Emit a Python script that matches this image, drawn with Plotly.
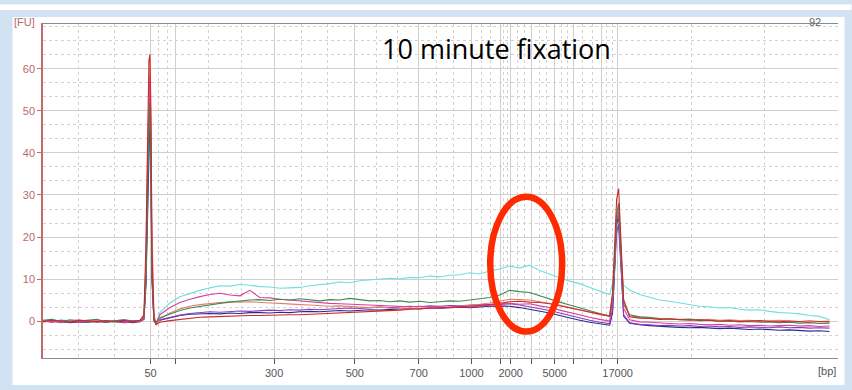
import plotly.graph_objects as go

# migration-time axis (arbitrary units), shared by all traces
t_base = [43, 52, 61, 70, 79, 88, 97, 106, 115, 124, 133, 140, 144]
t_peak1 = [146, 148, 149, 150, 151, 152, 154, 156]
t_smear = list(range(160, 611, 10))
t_peak2 = [613, 615, 617, 619, 621, 624]
t_tail = list(range(630, 831, 10))
t = t_base + t_peak1 + t_smear + t_peak2 + t_tail

cyan = ([0.1, -0.2, 0.3, 0.0, -0.3, 0.2, -0.1, 0.1, -0.4, 0.0, -0.2, 0.1, 0.8]
        + [8, 30, 42, 47, 32, 10, 0.5, -0.8]
        + [2.0, 4.3, 5.8, 6.6, 7.3, 7.9, 8.4, 8.3, 8.7, 8.5, 8.2, 8.1, 7.8, 7.9, 8.0,
           8.4, 8.6, 8.9, 9.3, 9.1, 9.6, 9.8, 9.9, 10.2, 10.0, 10.4, 10.3, 10.7, 10.5, 10.9,
           11.0, 11.5, 11.2, 11.9, 12.4, 13.1, 12.6, 13.3, 12.0, 11.1, 10.3, 9.5, 8.9, 8.0, 7.2,
           6.3]
        + [9, 16, 23, 22, 14, 8.5]
        + [7.4, 6.3, 5.6, 5.0, 4.7, 4.3, 3.8, 3.5, 3.4, 3.1, 3.2, 2.8, 2.6, 2.7, 2.3,
           2.0, 1.9, 1.7, 1.3, 1.1, 0.3])
green = ([0.2, 0.4, -0.1, 0.3, 0.0, 0.2, 0.4, -0.2, 0.1, 0.3, 0.0, 0.2, 1.0]
         + [10, 35, 48, 52, 36, 12, 0.8, -0.5]
         + [0.8, 1.7, 2.5, 3.1, 3.5, 3.9, 4.2, 4.5, 4.8, 5.0, 5.1, 4.9, 5.2, 5.0, 5.3,
            5.0, 4.8, 5.1, 5.0, 5.4, 5.1, 4.8, 4.9, 4.6, 4.8, 4.5, 4.7, 4.4, 4.6, 4.8,
            4.7, 5.0, 5.2, 5.6, 6.2, 7.3, 7.0, 6.8, 6.0, 5.2, 4.5, 3.8, 3.1, 2.5, 1.8,
            1.2]
         + [6, 14, 25, 28, 18, 4]
         + [1.5, 1.0, 0.9, 0.6, 0.5, 0.3, 0.4, 0.1, 0.2, -0.1, 0.0, -0.2, -0.1, -0.3, -0.2,
            -0.4, -0.3, -0.5, -0.4, -0.6, -0.5])
magenta = ([0.0, -0.3, 0.2, -0.1, -0.2, 0.1, -0.3, 0.0, -0.1, -0.4, 0.1, -0.2, 0.6]
           + [12, 40, 54, 58, 42, 14, 0.5, -0.5]
           + [1.5, 3.2, 4.4, 5.2, 5.8, 6.3, 6.6, 6.2, 6.0, 7.3, 5.6, 5.5, 5.2, 5.0, 4.7,
              4.5, 4.4, 4.2, 4.1, 4.0, 3.9, 3.8, 3.6, 3.6, 3.5, 3.4, 3.5, 3.3, 3.4, 3.2,
              3.4, 3.3, 3.5, 3.7, 3.9, 4.2, 4.0, 4.1, 3.6, 3.2, 2.6, 2.0, 1.5, 0.9, 0.4,
              0.0]
           + [5, 13, 24, 26, 16, 3]
           + [0.3, -0.2, -0.3, -0.5, -0.6, -0.7, -0.6, -0.8, -0.9, -0.8, -1.0, -0.9, -1.1, -1.0, -1.2,
              -1.1, -1.0, -1.2, -1.1, -1.3, -1.2])
salmon = ([0.2, 0.0, -0.2, 0.1, 0.3, 0.0, 0.2, -0.1, 0.1, 0.3, 0.0, 0.1, 1.2]
          + [14, 45, 57, 60, 46, 22, 2, -1.0]
          + [0.5, 1.9, 2.9, 3.5, 3.9, 4.2, 4.4, 4.6, 4.5, 4.6, 4.4, 4.3, 4.2, 4.0, 3.9,
             3.8, 3.7, 3.5, 3.6, 3.4, 3.3, 3.2, 3.3, 3.1, 3.0, 3.1, 3.0, 3.2, 3.1, 3.3,
             3.5, 3.8, 4.0, 4.3, 4.7, 5.2, 5.1, 5.0, 4.6, 4.2, 3.8, 3.2, 2.6, 2.1, 1.5,
             1.1]
          + [6, 15, 26, 27, 19, 5]
          + [1.2, 0.9, 0.7, 0.5, 0.6, 0.4, 0.5, 0.3, 0.4, 0.2, 0.3, 0.1, 0.2, 0.0, 0.1,
             0.2, 0.0, -0.1, 0.1, -0.1, 0.0])
red = ([-0.1, 0.2, 0.0, -0.3, 0.2, 0.0, -0.2, 0.1, -0.1, 0.2, -0.2, 0.1, 1.5]
       + [18, 52, 62, 63.5, 50, 17, 0.5, -0.8]
       + [-0.3, 0.1, 0.4, 0.7, 0.9, 1.0, 1.1, 1.2, 1.2, 1.3, 1.3, 1.4, 1.4, 1.5, 1.5,
          1.6, 1.7, 1.8, 1.9, 2.0, 2.1, 2.2, 2.3, 2.5, 2.6, 2.8, 2.9, 3.1, 3.2, 3.3,
          3.4, 3.5, 3.7, 3.9, 4.2, 4.6, 4.7, 4.5, 4.4, 4.1, 3.6, 3.1, 2.6, 2.1, 1.6,
          1.2]
       + [7, 17, 29, 31.5, 21, 5]
       + [1.0, 0.7, 0.6, 0.4, 0.5, 0.3, 0.2, 0.3, 0.1, 0.0, 0.1, -0.1, 0.0, 0.1, -0.1,
          -0.2, 0.0, -0.2, -0.3, -0.1, -0.2])
purple = ([-0.2, 0.0, -0.4, -0.1, -0.3, -0.2, 0.0, -0.3, -0.1, -0.4, -0.2, -0.1, 0.5]
          + [10, 38, 51, 55, 40, 11, 0.2, -0.6]
          + [0.3, 0.9, 1.4, 1.8, 2.0, 2.2, 2.1, 2.3, 2.4, 2.3, 2.5, 2.6, 2.5, 2.7, 2.6,
             2.8, 2.7, 2.9, 3.0, 3.1, 3.0, 3.2, 3.3, 3.2, 3.4, 3.5, 3.4, 3.6, 3.5, 3.7,
             3.6, 3.8, 3.9, 3.8, 4.0, 4.1, 3.8, 3.4, 3.0, 2.5, 1.9, 1.3, 0.7, 0.2, -0.3,
             -0.6]
          + [3, 11, 21, 23, 14, 1.5]
          + [-0.4, -0.8, -0.9, -1.1, -1.0, -1.2, -1.1, -1.3, -1.2, -1.4, -1.3, -1.5, -1.4, -1.5, -1.6,
             -1.4, -1.6, -1.5, -1.7, -1.6, -1.7])
navy = ([0.0, -0.2, -0.1, -0.4, -0.2, -0.3, -0.1, -0.3, 0.0, -0.2, -0.4, -0.1, 0.4]
        + [9, 34, 46, 50, 36, 10, 0.0, -0.5]
        + [0.2, 0.8, 1.3, 1.6, 1.7, 1.8, 1.7, 1.9, 1.8, 2.0, 2.0, 1.9, 2.1, 2.0, 2.2,
           2.3, 2.2, 2.4, 2.5, 2.4, 2.6, 2.7, 2.6, 2.8, 2.9, 3.0, 2.9, 3.1, 3.0, 3.2,
           3.3, 3.2, 3.4, 3.5, 3.6, 3.5, 3.2, 2.8, 2.4, 1.9, 1.3, 0.7, 0.2, -0.3, -0.7,
           -1.0]
        + [2, 11, 23, 25, 15, 1.2]
        + [-0.5, -0.9, -1.1, -1.3, -1.4, -1.5, -1.6, -1.5, -1.7, -1.8, -1.7, -1.9, -2.0, -1.9, -2.1,
           -2.2, -2.1, -2.3, -2.4, -2.3, -2.5])

# ladder ticks (position on migration axis, size label)
tick_pos = [150.7, 175.7, 274.3, 355, 419, 471.7, 500.7, 511, 531.7, 555, 574, 602, 618]
tick_lbl = ["50", "", "300", "500", "700", "1000", "", "2000", "", "5000", "", "", "17000"]
y_ticks = [0, 10, 20, 30, 40, 50, 60]

series = [
    ("cyan", cyan, "#6fdede"),
    ("navy", navy, "#2a2a8a"),
    ("purple", purple, "#8a3cc0"),
    ("salmon", salmon, "#e08070"),
    ("magenta", magenta, "#d8409a"),
    ("green", green, "#3f8a4f"),
    ("red", red, "#d02828"),
]

fig = go.Figure()
for name, ys, col in series:
    fig.add_trace(go.Scatter(x=t, y=ys, mode="lines", name=name,
                             line=dict(color=col, width=1.1), showlegend=False))

X0, X1 = 43, 838.5
# minor grid at thirds between major lines
edges = [X0] + tick_pos + [X1]
minor_x = []
for a, b in zip(edges[:-1], edges[1:]):
    minor_x += [a + (b - a) / 3, a + 2 * (b - a) / 3]
minor_x.append(X1 - 0.5)

W, H = 852, 390
ml, mr, mt, mb = 43, 13.5, 24, 32
pw, ph = W - ml - mr, H - mt - mb

def px(x):
    return (x - ml) / pw

def py(y):
    return (H - mb - y) / ph

fig.update_layout(
    width=W, height=H,
    margin=dict(l=ml, r=mr, t=mt, b=mb, pad=0),
    paper_bgcolor="#d3e2f3",
    plot_bgcolor="white",
    xaxis=dict(range=[X0, X1], tickmode="array", tickvals=tick_pos, ticktext=tick_lbl,
               showgrid=True, gridcolor="#cfcfcf", gridwidth=1, zeroline=False,
               showline=True, linecolor="#8a8a8a", linewidth=1, mirror=True,
               ticks="outside", ticklen=5, tickcolor="#555555",
               tickfont=dict(family="Liberation Sans", size=11, color="#555555"),
               minor=dict(tickmode="array", tickvals=minor_x, showgrid=True,
                          gridcolor="#d2d2d2", griddash="dot", gridwidth=1, ticks="")),
    yaxis=dict(range=[-8.8, 70.7], tickmode="array", tickvals=y_ticks,
               ticktext=[str(v) for v in y_ticks],
               showgrid=True, gridcolor="#cfcfcf", gridwidth=1, zeroline=False,
               showline=True, linecolor="#c06a6a", linewidth=1.5,
               ticks="outside", ticklen=4, tickcolor="#c06a6a",
               tickfont=dict(family="Liberation Sans", size=11, color="#b86a6a"),
               minor=dict(tick0=0, dtick=10 / 3, showgrid=True,
                          gridcolor="#d2d2d2", griddash="dot", gridwidth=1, ticks="")),
    shapes=[
        dict(type="rect", xref="paper", yref="paper", layer="below",
             x0=px(0), x1=px(W), y0=py(10), y1=py(4.5), fillcolor="white", line_width=0),
        dict(type="rect", xref="paper", yref="paper", layer="below",
             x0=px(12.5), x1=px(845), y0=py(385), y1=py(17), fillcolor="white", line_width=0),
        dict(type="circle", xref="x", yref="y", layer="above",
             x0=490.5, x1=562.5, y0=-2.5, y1=29.6,
             line=dict(color="#ff2a00", width=6.5)),
    ],
    annotations=[
        dict(text="10 minute fixation", xref="paper", yref="paper",
             x=px(497), y=py(48), xanchor="center", yanchor="middle", showarrow=False,
             font=dict(family="Open Sans", size=27, color="black")),
        dict(text="[FU]", xref="paper", yref="paper", x=px(12), y=py(22),
             xanchor="left", yanchor="middle", showarrow=False,
             font=dict(family="Liberation Sans", size=11, color="#b86a6a")),
        dict(text="92", xref="paper", yref="paper", x=px(823), y=py(22),
             xanchor="right", yanchor="middle", showarrow=False,
             font=dict(family="Liberation Sans", size=11, color="#666666")),
        dict(text="[bp]", xref="paper", yref="paper", x=px(838), y=py(371),
             xanchor="right", yanchor="middle", showarrow=False,
             font=dict(family="Liberation Sans", size=11, color="#555555")),
    ],
)

fig.write_html("out.html")
